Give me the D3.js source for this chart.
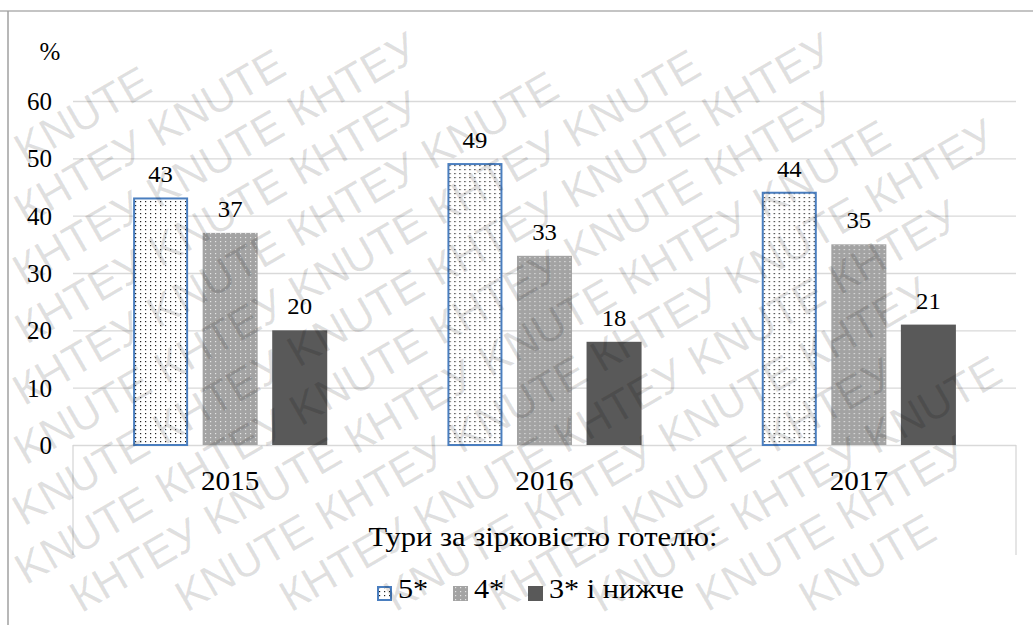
<!DOCTYPE html>
<html><head><meta charset="utf-8">
<script src="https://cdn.jsdelivr.net/npm/d3@7"></script>
<style>
html,body{margin:0;padding:0;background:#fff;}
svg{display:block;}
</style></head>
<body>
<svg id="chart" width="1033" height="625"></svg>
<script>
const categories = ["2015", "2016", "2017"];
const seriesNames = ["5*", "4*", "3* і нижче"];
const values5 = [43, 49, 44];
const values4 = [37, 33, 35];
const values3 = [20, 18, 21];
const yTicks = [0, 10, 20, 30, 40, 50, 60];
const yUnit = "%";
const axisTitle = "Тури за зірковістю готелю:";
const watermarkWords = ["КНТЕУ", "KNUTE"];

(function () {
const SERIF = "'Liberation Serif', 'Times New Roman', Tinos, serif";
const SANS = "'Liberation Sans', Arial, sans-serif";
const seriesValues = [values5, values4, values3];
const data = categories.map((c, i) => ({cat: c, vals: seriesNames.map((s, j) => ({s, j, v: seriesValues[j][i]}))}));

const svg = d3.select("#chart");
const W = 1033, H = 625;
const pLeft = 73, pRight = 1016, pTop = 101, pBottom = 445;

function stretch(sel, k) {
  sel.each(function () {
    const len = this.getComputedTextLength();
    d3.select(this).attr("textLength", len * k).attr("lengthAdjust", "spacingAndGlyphs");
  });
}

// patterns
const defs = svg.append("defs");
const p5 = defs.append("pattern").attr("id", "p5").attr("patternUnits", "userSpaceOnUse").attr("width", 5).attr("height", 4);
p5.append("rect").attr("width", 5).attr("height", 4).attr("fill", "#fff");
p5.append("rect").attr("x", 2).attr("y", 1).attr("width", 1.2).attr("height", 1.2).attr("fill", "#222");
const p4 = defs.append("pattern").attr("id", "p4").attr("patternUnits", "userSpaceOnUse").attr("width", 5).attr("height", 4);
p4.append("rect").attr("width", 5).attr("height", 4).attr("fill", "#a3a3a3");
p4.append("rect").attr("x", 2).attr("y", 1).attr("width", 1.2).attr("height", 1.2).attr("fill", "#e4e4e4");

const fills = ["url(#p5)", "url(#p4)", "#595959"];
const strokes = ["#4a7ebf", "none", "none"];

// frame
svg.append("line").attr("x1", 0).attr("x2", W).attr("y1", 11).attr("y2", 11).attr("stroke", "#b0b0b0").attr("stroke-width", 1.5);
svg.append("line").attr("x1", 8).attr("x2", 8).attr("y1", 11).attr("y2", H).attr("stroke", "#a0a0a0").attr("stroke-width", 1.5);

const x0 = d3.scaleBand().domain(categories).range([pLeft, pRight]).paddingInner(0).paddingOuter(0);
const x1 = d3.scaleBand().domain(seriesNames).range([0, x0.bandwidth()]).paddingInner(0.209).paddingOuter(0.864);
const y = d3.scaleLinear().domain([0, 60]).range([pBottom, pTop]);

// gridlines + y tick labels
const yAxis = d3.axisLeft(y).tickValues(yTicks).tickSize(-(pRight - pLeft)).tickPadding(21).tickFormat(d3.format("d"));
const gy = svg.append("g").attr("transform", `translate(${pLeft},0)`).call(yAxis);
gy.select(".domain").remove();
gy.selectAll(".tick line").attr("stroke", "#d9d9d9").attr("stroke-width", 1.3);
gy.selectAll(".tick text").style("font-family", SERIF).style("font-size", "25px").attr("fill", "#000").attr("dy", "0.34em");

// box below axis
svg.append("path").attr("d", `M${pLeft},${pBottom}V555M${pRight},${pBottom}V555`).attr("stroke", "#d4d4d4").attr("fill", "none").attr("stroke-width", 1.2);

svg.append("text").attr("x", 50).attr("y", 60).attr("text-anchor", "middle")
  .style("font-family", SERIF).style("font-size", "25px").text(yUnit);

// bars
const groups = svg.selectAll("g.grp").data(data).join("g").attr("class", "grp").attr("transform", d => `translate(${x0(d.cat)},0)`);
groups.selectAll("rect").data(d => d.vals).join("rect")
  .attr("x", d => x1(d.s) + (d.j === 0 ? 1 : 0))
  .attr("width", d => x1.bandwidth() - (d.j === 0 ? 2 : 0))
  .attr("y", d => y(d.v))
  .attr("height", d => pBottom - y(d.v))
  .attr("fill", d => fills[d.j])
  .attr("stroke", d => strokes[d.j])
  .attr("stroke-width", 2);
const vals = groups.selectAll("text.val").data(d => d.vals).join("text").attr("class", "val")
  .attr("x", d => x1(d.s) + x1.bandwidth() / 2)
  .attr("y", d => y(d.v) - 16)
  .attr("text-anchor", "middle")
  .style("font-family", SERIF).style("font-size", "24px")
  .text(d => d.v);
stretch(vals, 1.03);

// x labels
const xAxis = d3.axisBottom(x0).tickSize(0).tickPadding(0);
const gx = svg.append("g").attr("transform", `translate(0,${pBottom})`).call(xAxis);
gx.select(".domain").remove();
gx.selectAll(".tick text").style("font-family", SERIF).style("font-size", "27px").attr("fill", "#000").attr("dy", 0).attr("y", 45);
stretch(gx.selectAll(".tick text"), 1.08);

// axis title
const title = svg.append("text").attr("x", 543).attr("y", 546).attr("text-anchor", "middle")
  .style("font-family", SERIF).style("font-size", "28px").text(axisTitle);
title.attr("textLength", 349).attr("lengthAdjust", "spacingAndGlyphs");

// legend
const legX = [377, 453, 528];
const leg = svg.selectAll("g.leg").data(seriesNames).join("g").attr("class", "leg").attr("transform", (d, i) => `translate(${legX[i]},586)`);
leg.append("rect").attr("x", (d, i) => i === 0 ? 1 : 0).attr("y", (d, i) => i === 0 ? 1 : 0)
  .attr("width", (d, i) => i === 0 ? 13 : 15).attr("height", (d, i) => i === 0 ? 13 : 15)
  .attr("fill", (d, i) => fills[i]).attr("stroke", (d, i) => strokes[i]).attr("stroke-width", 2);
const legText = leg.append("text").attr("x", 21).attr("y", 12)
  .style("font-family", SERIF).style("font-size", "28px").text(d => d);
stretch(legText, 1.08);

// watermark: words packed along rotated rows, each fully inside the picture
const ang = 30 * Math.PI / 180, c = Math.cos(ang), s = Math.sin(ang);
const wm = svg.append("g").attr("pointer-events", "none");
const fs = 44, asc = 0.92 * fs, desc = 0.22 * fs, rowGap = 52, space = 0.3 * fs;
const inside = (u, v) => {
  const x = u * c + v * s, yy = -u * s + v * c;
  return x >= 2 && x <= W - 2 && yy >= 2 && yy <= H - 2;
};
const fits = (u, v, len) => inside(u - 1, v - asc) && inside(u + len + 1, v - asc) && inside(u - 1, v + desc) && inside(u + len + 1, v + desc);
d3.range(-12, 30).forEach(i => {
  const v = i * rowGap;
  let u = -1100 + ((i * 95) % 330);
  let k = i % 2;
  while (u < 1700) {
    const word = watermarkWords[k % 2];
    const t = wm.append("text").attr("transform", `rotate(-30) translate(${u},${v})`)
      .style("font-family", SANS).style("font-size", fs + "px")
      .attr("fill", "#000").attr("fill-opacity", 0.12).text(word);
    const len = t.node().getComputedTextLength();
    if (fits(u, v, len)) {
      u += len + space;
      k++;
    } else {
      // slide forward until the word fits, or give up if none of the row remains
      let found = false;
      for (let du = 4; du < len + space; du += 4) {
        if (fits(u + du, v, len)) { u += du; found = true; break; }
      }
      if (found) {
        t.attr("transform", `rotate(-30) translate(${u},${v})`);
        u += len + space;
        k++;
      } else {
        t.remove();
        u += len + space;
        k++;
      }
    }
  }
});
})();
</script>
</body></html>
